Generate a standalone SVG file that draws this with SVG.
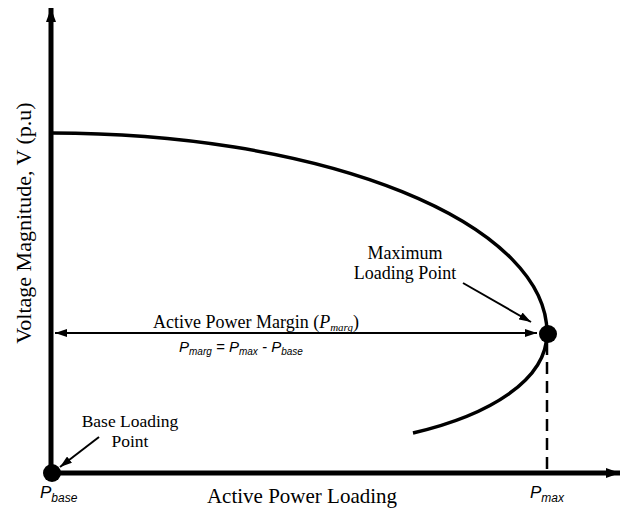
<svg xmlns="http://www.w3.org/2000/svg" width="621" height="509" viewBox="0 0 621 509">
  <style>
    .serif { font-family: "Liberation Serif", "Times New Roman", serif; fill: #000; }
    .sans { font-family: "Liberation Sans", Arial, sans-serif; font-style: italic; fill: #000; }
    .thin { stroke: #000; stroke-width: 2; fill: none; }
    .axis { stroke: #000; stroke-width: 5; fill: none; }
  </style>
  <defs>
    <marker id="ah" viewBox="0 0 12 8" refX="12" refY="4" markerWidth="12" markerHeight="8" markerUnits="userSpaceOnUse" orient="auto-start-reverse">
      <path d="M0,0 L12,4 L0,8 z" fill="#000"/>
    </marker>
    <marker id="axh" viewBox="0 0 14 10" refX="14" refY="5" markerWidth="14" markerHeight="10" markerUnits="userSpaceOnUse" orient="auto">
      <path d="M0,0 L14,5 L0,10 z" fill="#000"/>
    </marker>
  </defs>
  <rect width="621" height="509" fill="#fff"/>

  <g id="axes">
    <line class="axis" x1="51" y1="473" x2="51" y2="8" marker-end="url(#axh)"/>
    <line class="axis" x1="51" y1="473" x2="620" y2="473" marker-end="url(#axh)"/>
  </g>

  <g id="pv-curve">
    <path d="M52,133 A495,200 0 0 1 547,333 C547,380 490,415 413,433" stroke="#000" stroke-width="3.5" fill="none"/>
  </g>

  <g id="connectors">
    <line class="thin" x1="55" y1="333" x2="537" y2="333" marker-start="url(#ah)" marker-end="url(#ah)"/>
    <line class="thin" x1="463" y1="283" x2="531" y2="322" marker-end="url(#ah)"/>
    <line class="thin" x1="99" y1="437" x2="60" y2="467" marker-end="url(#ah)"/>
    <line x1="547" y1="343" x2="547" y2="471" stroke="#000" stroke-width="2.5" stroke-dasharray="12 7"/>
  </g>

  <g id="base-point">
    <circle cx="52" cy="473" r="9" fill="#000"/>
    <text class="serif" font-size="17.5" text-anchor="middle" x="130" y="427">Base Loading</text>
    <text class="serif" font-size="17.5" text-anchor="middle" x="130" y="447">Point</text>
    <text class="sans" font-size="17" x="40" y="498">P<tspan font-size="12" dy="4">base</tspan></text>
  </g>

  <g id="max-point">
    <circle cx="548" cy="334" r="9" fill="#000"/>
    <text class="serif" font-size="18" text-anchor="middle" x="405" y="259">Maximum</text>
    <text class="serif" font-size="18" text-anchor="middle" x="405" y="279">Loading Point</text>
    <text class="sans" font-size="17" x="530" y="498">P<tspan font-size="12" dy="4">max</tspan></text>
  </g>

  <g id="margin-labels">
    <text class="serif" font-size="18" x="153" y="328">Active Power Margin (<tspan font-style="italic">P</tspan><tspan font-style="italic" font-size="11" dy="3">marg</tspan><tspan dy="-3">)</tspan></text>
    <text class="sans" font-size="15" x="179" y="352">P<tspan font-size="10" dy="3">marg</tspan><tspan dy="-3"> = P</tspan><tspan font-size="10" dy="3">max</tspan><tspan dy="-3"> - P</tspan><tspan font-size="10" dy="3">base</tspan></text>
  </g>

  <g id="axis-labels">
    <text class="serif" font-size="21" text-anchor="middle" x="302" y="503">Active Power Loading</text>
    <text class="serif" font-size="22" text-anchor="middle" transform="translate(31,223) rotate(-90)">Voltage Magnitude, V (p.u)</text>
  </g>
</svg>
